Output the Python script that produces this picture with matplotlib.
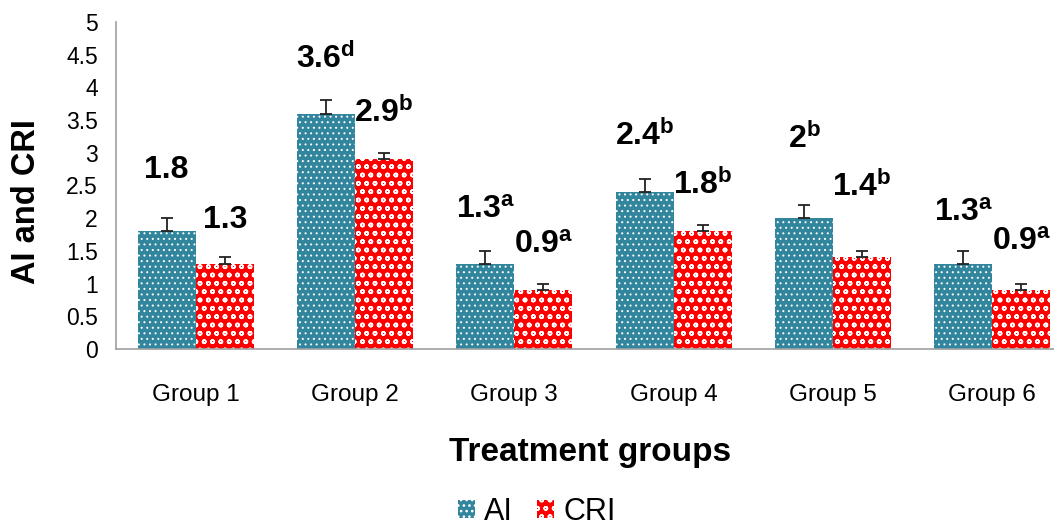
import matplotlib
matplotlib.use("Agg")
import matplotlib.pyplot as plt
import numpy as np
from matplotlib.patches import Patch

plt.rcParams['font.family'] = ['Liberation Sans', 'DejaVu Sans']
plt.rcParams['mathtext.fontset'] = 'custom'
plt.rcParams['mathtext.rm'] = 'Liberation Sans:bold'
plt.rcParams['mathtext.bf'] = 'Liberation Sans:bold'
plt.rcParams['mathtext.it'] = 'Liberation Sans:bold'

groups = ["Group 1", "Group 2", "Group 3", "Group 4", "Group 5", "Group 6"]
ai_values = [1.8, 3.6, 1.3, 2.4, 2.0, 1.3]
cri_values = [1.3, 2.9, 0.9, 1.8, 1.4, 0.9]
ai_err = [0.2, 0.2, 0.2, 0.2, 0.2, 0.2]
cri_err = [0.1, 0.1, 0.1, 0.1, 0.1, 0.1]
ai_labels = ["1.8", "3.6", "1.3", "2.4", "2", "1.3"]
ai_sup = ["", "d", "a", "b", "b", "a"]
cri_labels = ["1.3", "2.9", "0.9", "1.8", "1.4", "0.9"]
cri_sup = ["", "b", "a", "b", "b", "a"]
y_ticks = [0, 0.5, 1, 1.5, 2, 2.5, 3, 3.5, 4, 4.5, 5]
y_tick_labels = ["0", "0.5", "1", "1.5", "2", "2.5", "3", "3.5", "4", "4.5", "5"]

# label baseline offsets above bar values (layout)
ai_lab_off = [0.82, 0.70, 0.70, 0.72, 1.07, 0.66]
cri_lab_off = [0.55, 0.57, 0.57, 0.57, 0.94, 0.61]

AI_COLOR = "#31859C"
CRI_COLOR = "#FF0000"

fig = plt.figure(figsize=(10.54, 5.27), dpi=100)
ax = fig.add_axes([116/1054, 1-349/527, (1072-116)/1054, (349-22)/527])

x = np.arange(len(groups))
w = 0.365
plt.rcParams['hatch.linewidth'] = 0.7
b1 = ax.bar(x - w/2, ai_values, w, color=AI_COLOR, edgecolor="white", linewidth=0, hatch="...")
plt.rcParams['hatch.linewidth'] = 1.1
b2 = ax.bar(x + w/2, cri_values, w, color=CRI_COLOR, edgecolor="white", linewidth=0, hatch="oo")
ax.errorbar(x - w/2, ai_values, yerr=[np.zeros(6), ai_err], fmt="none", ecolor="#222222",
            elinewidth=1.3, capsize=4, capthick=1.3)
ax.errorbar(x + w/2, cri_values, yerr=[np.zeros(6), cri_err], fmt="none", ecolor="#222222",
            elinewidth=1.3, capsize=4, capthick=1.3)

for i in range(len(groups)):
    t = ai_labels[i] + (r"$^{\mathbf{%s}}$" % ai_sup[i] if ai_sup[i] else "")
    ax.text(x[i] - w/2, ai_values[i] + ai_lab_off[i], t, ha="center", va="baseline",
            fontsize=23, fontweight="bold")
    t = cri_labels[i] + (r"$^{\mathbf{%s}}$" % cri_sup[i] if cri_sup[i] else "")
    ax.text(x[i] + w/2, cri_values[i] + cri_lab_off[i], t, ha="center", va="baseline",
            fontsize=23, fontweight="bold")

ax.set_xlim(-0.5, len(groups) - 0.5)
ax.set_ylim(0, 5)
ax.set_yticks(y_ticks)
ax.set_yticklabels(y_tick_labels, fontsize=16.5)
ax.set_xticks(x)
ax.set_xticklabels(groups, fontsize=17.5)
ax.tick_params(axis="both", length=0)
ax.tick_params(axis="y", pad=13)
ax.tick_params(axis="x", pad=25)
for s in ["top", "right"]:
    ax.spines[s].set_visible(False)
for s in ["left", "bottom"]:
    ax.spines[s].set_color("#A0A0A0")
    ax.spines[s].set_linewidth(1.2)

ax.set_xlabel("Treatment groups", fontsize=24, fontweight="bold")
ax.set_ylabel("AI and CRI", fontsize=23.5, fontweight="bold")
ax.xaxis.set_label_coords((590-116)/(1072-116), -(453-349)/327)
ax.yaxis.set_label_coords(-(116-27)/(1072-116), (349-202)/327)
ax.xaxis.label.set_va("center")
ax.yaxis.label.set_va("center")

plt.rcParams['hatch.linewidth'] = 0.7
h1 = Patch(facecolor=AI_COLOR, edgecolor="white", linewidth=0, hatch="...")
plt.rcParams['hatch.linewidth'] = 1.1
h2 = Patch(facecolor=CRI_COLOR, edgecolor="white", linewidth=0, hatch="oo")
fig.legend([h1, h2], ["AI", "CRI"], loc="center", bbox_to_anchor=(537/1054, 1-512/527),
           ncol=2, frameon=False, fontsize=22, handlelength=0.55, handleheight=0.55,
           handletextpad=0.3, columnspacing=0.8, borderpad=0)

fig.savefig("out.png", dpi=100)
